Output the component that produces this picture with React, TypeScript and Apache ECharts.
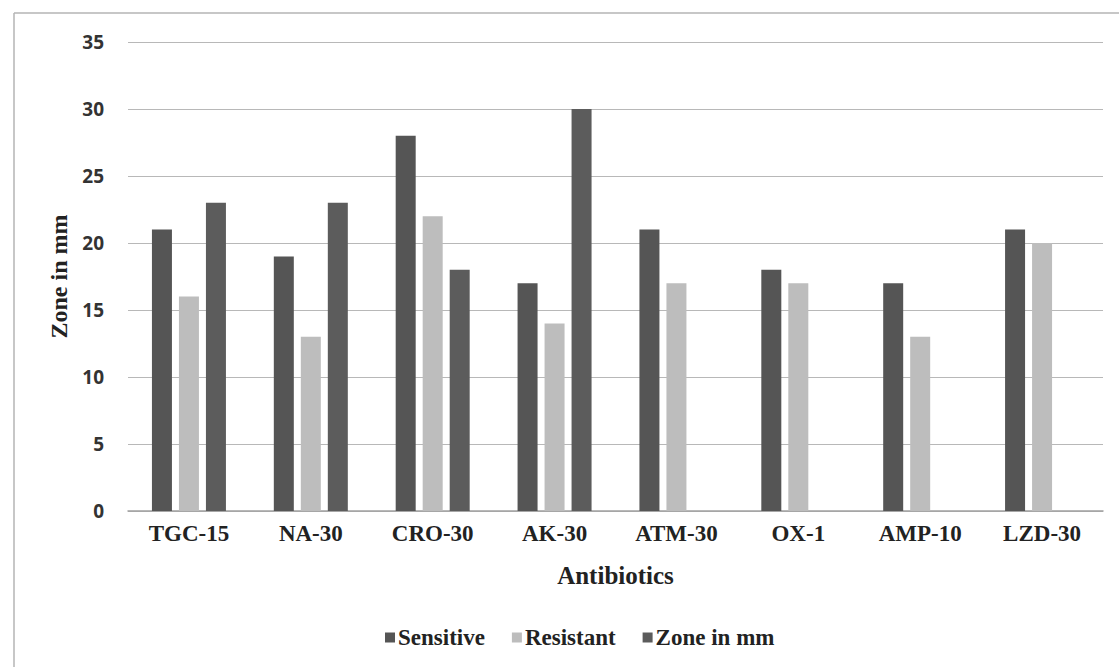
import React, { useEffect, useRef } from "react";
import * as echarts from "echarts";

const categories = ["TGC-15", "NA-30", "CRO-30", "AK-30", "ATM-30", "OX-1", "AMP-10", "LZD-30"];
const sensitive = [21, 19, 28, 17, 21, 18, 17, 21];
const resistant = [16, 13, 22, 14, 17, 17, 13, 20];
const zoneInMm: (number | null)[] = [23, 23, 18, 30, null, null, null, null];

export default function App() {
  const ref = useRef<HTMLDivElement>(null);
  useEffect(() => {
    const chart = echarts.init(ref.current!, null, { renderer: "svg" });
    const serif = "'Liberation Serif', 'Times New Roman', serif";
    const sans = "'Open Sans', 'Liberation Sans', sans-serif";
    chart.setOption({
      animation: false,
      backgroundColor: "#ffffff",
      graphic: [
        { type: "line", shape: { x1: 14, y1: 13, x2: 1119, y2: 13 }, style: { stroke: "#b5b5b5", lineWidth: 1.5 } },
        { type: "line", shape: { x1: 14, y1: 13, x2: 14, y2: 667 }, style: { stroke: "#b5b5b5", lineWidth: 1.5 } },
      ],
      grid: { left: 128, right: 16, top: 42, bottom: 156, containLabel: false },
      legend: {
        bottom: 13,
        left: 380,
        itemWidth: 10,
        itemHeight: 10,
        itemGap: 27,
        icon: "rect",
        textStyle: { fontFamily: serif, fontWeight: "bold", fontSize: 23, color: "#222", padding: [0, 0, 0, -2] },
        data: ["Sensitive", "Resistant", "Zone in mm"],
      },
      xAxis: {
        type: "category",
        data: categories,
        name: "Antibiotics",
        nameLocation: "middle",
        nameGap: 52,
        nameTextStyle: { fontFamily: serif, fontWeight: "bold", fontSize: 25, color: "#222" },
        axisLine: { lineStyle: { color: "#a0a0a0", width: 1.5 } },
        axisTick: { show: false },
        axisLabel: { fontFamily: serif, fontWeight: "bold", fontSize: 23, color: "#222", margin: 11 },
      },
      yAxis: {
        type: "value",
        min: 0,
        max: 35,
        interval: 5,
        name: "Zone in mm",
        nameLocation: "middle",
        nameGap: 54,
        nameTextStyle: { fontFamily: serif, fontWeight: "bold", fontSize: 24, color: "#222" },
        axisLine: { show: false },
        axisTick: { show: false },
        axisLabel: { fontFamily: sans, fontWeight: "bold", fontSize: 19, color: "#333", margin: 24 },
        splitLine: { lineStyle: { color: "#b8b8b8", width: 1.2 } },
      },
      series: [
        { name: "Sensitive", type: "bar", data: sensitive, barWidth: 20, barGap: "35%", itemStyle: { color: "#555555" } },
        { name: "Resistant", type: "bar", data: resistant, barWidth: 20, barGap: "35%", itemStyle: { color: "#bdbdbd" } },
        { name: "Zone in mm", type: "bar", data: zoneInMm, barWidth: 20, barGap: "35%", itemStyle: { color: "#5c5c5c" } },
      ],
    });
    return () => chart.dispose();
  }, []);
  return <div ref={ref} style={{ width: 1119, height: 667, position: "absolute", left: 0, top: 0 }} />;
}
